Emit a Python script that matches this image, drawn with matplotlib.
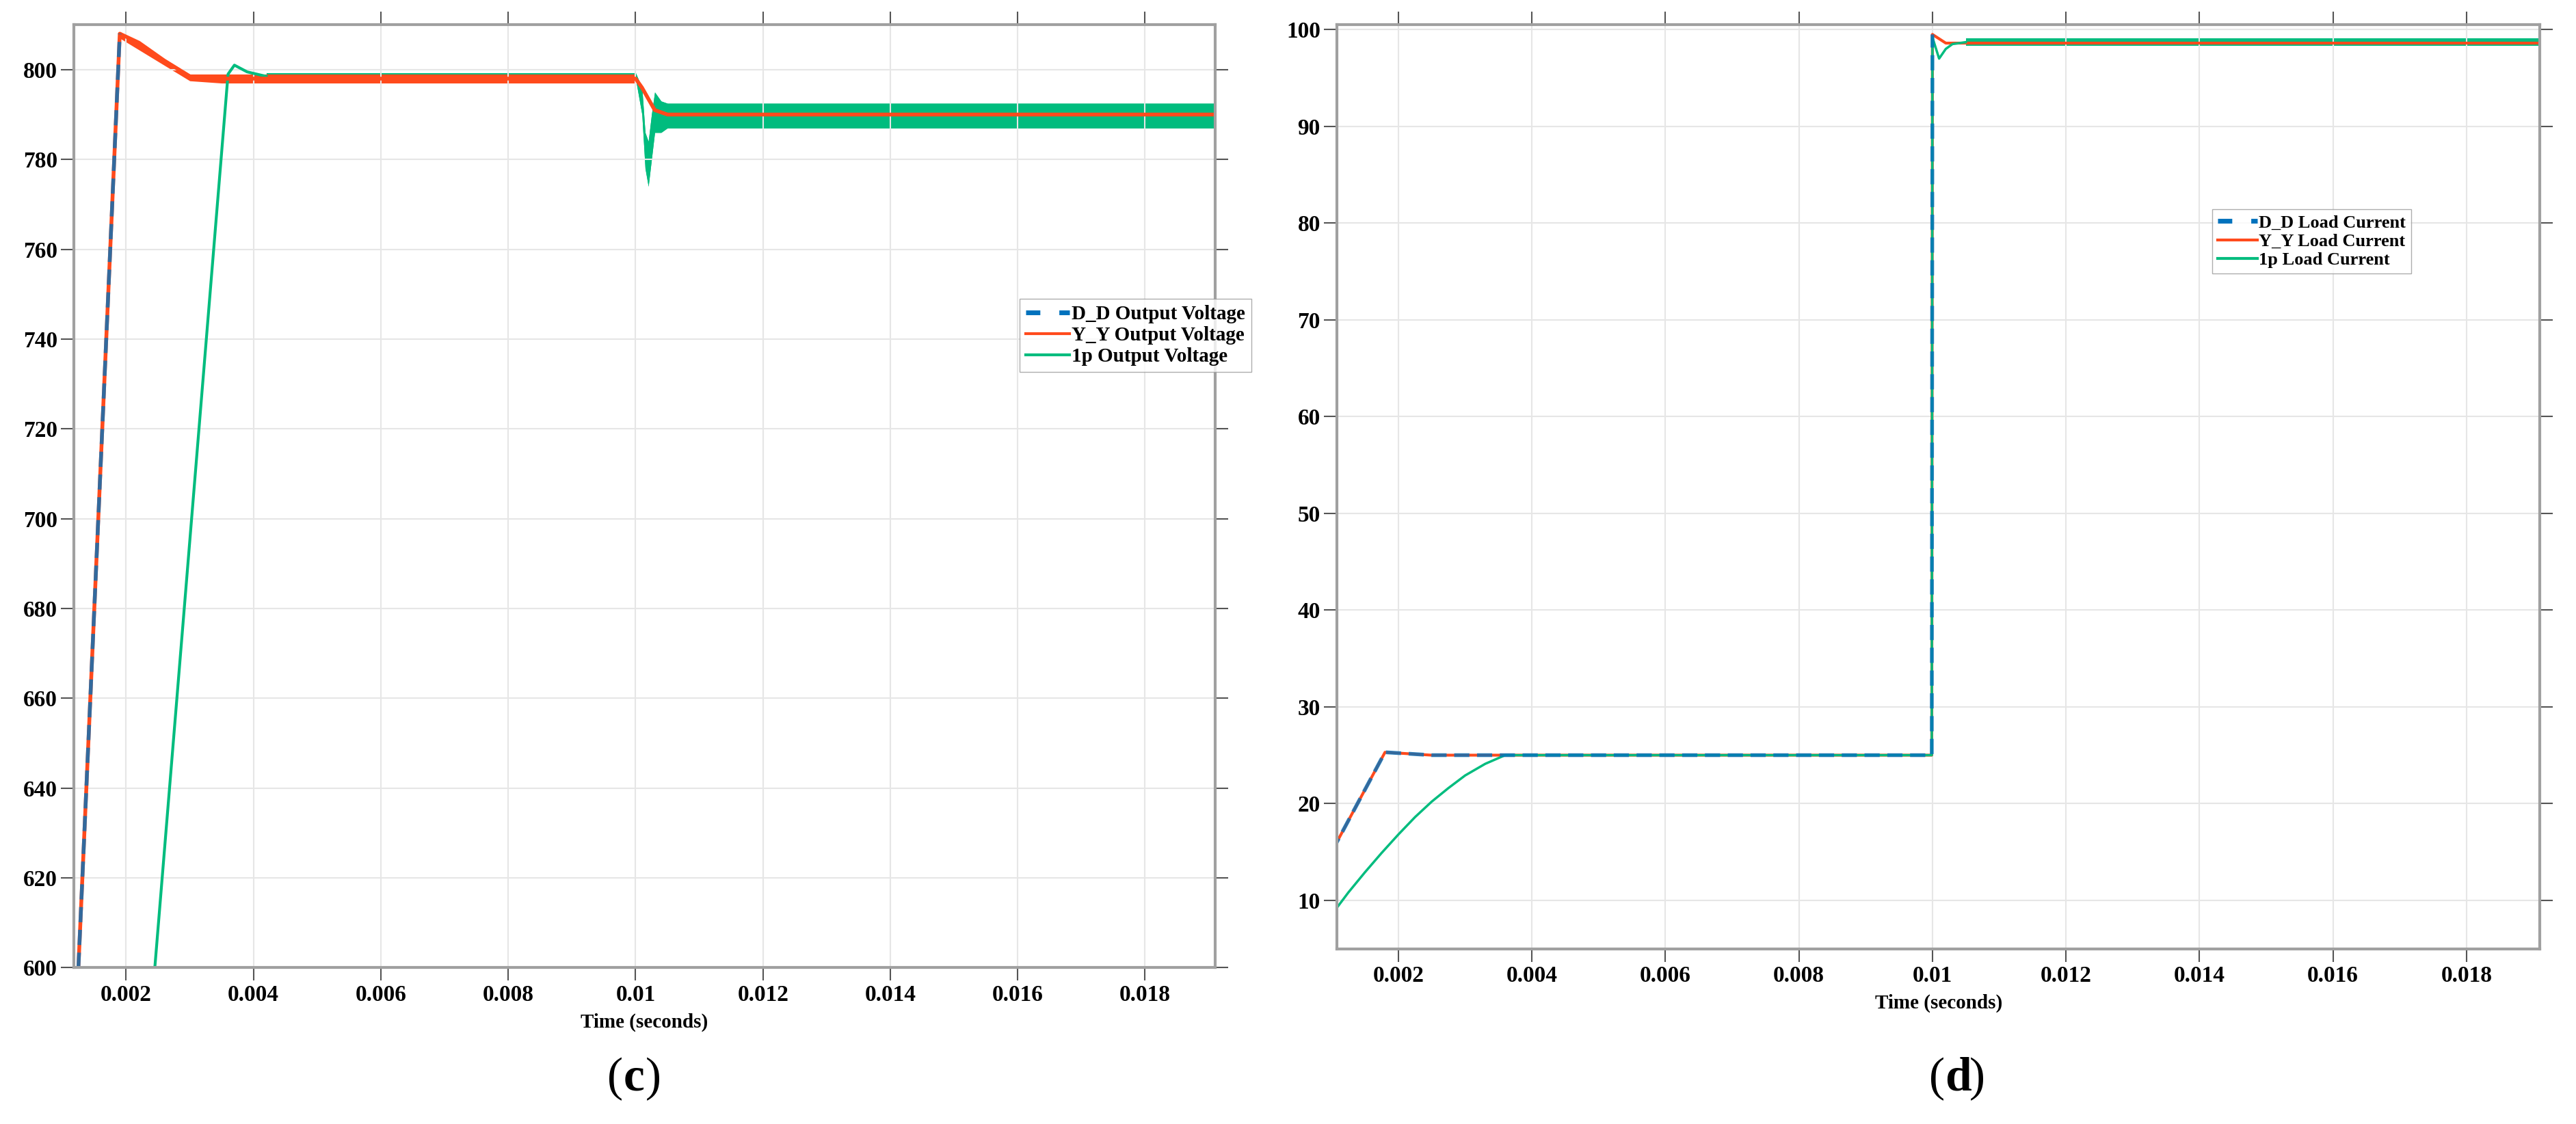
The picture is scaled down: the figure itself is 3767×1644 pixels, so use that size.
import numpy as np
import matplotlib.pyplot as plt

plt.rcParams['font.family'] = ['Liberation Serif', 'DejaVu Serif']

BLUE = '#0072BD'
RED = '#FF4A1C'
GREEN = '#00BC7E'

# ---- (c) output voltage ----
dd_v_t = [0.00125, 0.0019, 0.0022, 0.0026, 0.003, 0.0035, 0.01, 0.0101, 0.0103, 0.0105, 0.0195]
dd_v = [600, 808, 806, 802, 798.5, 798, 798, 796, 791, 790, 790]
# Y_Y ripple band (lower / upper)
yy_t = [0.0019, 0.003, 0.0035, 0.01, 0.0101, 0.0103, 0.0105, 0.0195]
yy_lo = [807, 797.5, 797, 797, 794, 789, 788.5, 788.5]
yy_hi = [808.5, 799, 799, 799, 797, 792, 791.5, 791.5]
# 1p
p1_v_t = [0.00245, 0.0036, 0.0037, 0.0039, 0.0042]
p1_v = [600, 799, 801, 799.5, 798.5]
p1_t = [0.0042, 0.01, 0.0101, 0.01015, 0.0102, 0.01025, 0.0103, 0.0104, 0.0105, 0.0107, 0.0195]
p1_lo = [798, 798, 790, 778, 774, 780, 786, 786, 787, 787, 787]
p1_hi = [799.3, 799.3, 796, 786, 784, 790, 795, 793, 792.5, 792.5, 792.5]

# ---- (d) load current ----
dd_i_t = [0.001, 0.0018, 0.0025, 0.00999, 0.01, 0.0102, 0.0195]
dd_i = [15, 25.3, 25, 25, 99.5, 98.6, 98.6]
p1_i_t = [0.001, 0.00125, 0.0015, 0.00175, 0.002, 0.00225, 0.0025, 0.00275, 0.003, 0.0033,
          0.0036, 0.00999, 0.01, 0.0101, 0.0102, 0.0103, 0.0105]
p1_i = [8.5, 10.8, 12.9, 14.9, 16.8, 18.6, 20.2, 21.6, 22.9, 24.1,
        25, 25, 99.2, 97.0, 98.0, 98.5, 98.7]
p1_band_t = [0.0105, 0.0195]
p1_band_lo = [98.3, 98.3]
p1_band_hi = [99.1, 99.1]

fig = plt.figure(figsize=(37.67, 16.44), dpi=100)
ax1 = fig.add_axes([0.0287, 0.139, 0.443, 0.839])
ax2 = fig.add_axes([0.519, 0.156, 0.467, 0.822])


def style(ax):
    ax.grid(True, color='#e6e6e6', linewidth=1.5)
    for s in ax.spines.values():
        s.set_color('#a0a0a0')
        s.set_linewidth(3)
    ax.tick_params(which='both', direction='out', length=14, width=1.5, color='#555555',
                   top=True, right=True, labelsize=24)
    ax.set_xticks([0.002, 0.004, 0.006, 0.008, 0.01, 0.012, 0.014, 0.016, 0.018])
    ax.set_xticklabels(['0.002', '0.004', '0.006', '0.008', '0.01', '0.012', '0.014', '0.016', '0.018'],
                       fontweight='bold')
    for lab in ax.get_yticklabels():
        lab.set_fontweight('bold')
    ax.set_xlabel('Time (seconds)', fontsize=21, fontweight='bold', labelpad=8)


# (c)
ax1.plot(p1_v_t, p1_v, color=GREEN, linewidth=3)
ax1.fill_between(p1_t, p1_lo, p1_hi, color=GREEN, linewidth=0)
ax1.plot(dd_v_t, dd_v, color=RED, linewidth=4)
ax1.fill_between(yy_t[:4], yy_lo[:4], yy_hi[:4], color=RED, linewidth=0)
ax1.fill_between(p1_t[1:], p1_lo[1:], p1_hi[1:], color=GREEN, linewidth=0)
ax1.plot(dd_v_t[:2], dd_v[:2], color=BLUE, linestyle=(0, (4, 2)), linewidth=4, alpha=0.8)
ax1.plot([], [], color=BLUE, linestyle=(0, (3, 4)), linewidth=5, label='D_D Output Voltage')
ax1.plot([], [], color=RED, linewidth=3, label='Y_Y Output Voltage')
ax1.plot([], [], color=GREEN, linewidth=3, label='1p Output Voltage')
ax1.set_xlim(0.00118, 0.0191)
ax1.set_ylim(600, 810)
ax1.set_yticks(range(600, 801, 20))
style(ax1)
ax1.legend(loc='upper left', bbox_to_anchor=(0.82, 0.72), frameon=True,
           fancybox=False, edgecolor='#999999', handlelength=2.2, borderpad=0.3,
           labelspacing=0.15, handletextpad=0.1, prop={'weight': 'bold', 'size': 21})

# (d)
ax2.plot(dd_i_t, dd_i, color=RED, linewidth=3)
ax2.plot(p1_i_t, p1_i, color=GREEN, linewidth=2.5)
ax2.fill_between(p1_band_t, p1_band_lo, p1_band_hi, color=GREEN, linewidth=0)
ax2.plot(dd_i_t[:5], dd_i[:5], color=BLUE, linestyle=(0, (4, 2)), linewidth=4, alpha=0.8)
ax2.plot([], [], color=BLUE, linestyle=(0, (3, 4)), linewidth=5, label='D_D Load Current')
ax2.plot([], [], color=RED, linewidth=3, label='Y_Y Load Current')
ax2.plot([], [], color=GREEN, linewidth=3, label='1p Load Current')
ax2.set_xlim(0.00108, 0.0191)
ax2.set_ylim(5, 100.5)
ax2.set_yticks(range(10, 101, 10))
style(ax2)
ax2.legend(loc='upper left', bbox_to_anchor=(0.72, 0.81), frameon=True,
           fancybox=False, edgecolor='#999999', handlelength=2.2, borderpad=0.3,
           labelspacing=0.15, handletextpad=0.1, prop={'weight': 'bold', 'size': 19})

fig.text(0.242, 0.03, '(', fontsize=50, ha='right')
fig.text(0.242, 0.03, 'c', fontsize=50, ha='left', fontweight='bold')
fig.text(0.2505, 0.03, ')', fontsize=50, ha='left')
fig.text(0.755, 0.03, '(', fontsize=50, ha='right')
fig.text(0.755, 0.03, 'd', fontsize=50, ha='left', fontweight='bold')
fig.text(0.7645, 0.03, ')', fontsize=50, ha='left')

fig.savefig('out.png', dpi=100, facecolor='white')
